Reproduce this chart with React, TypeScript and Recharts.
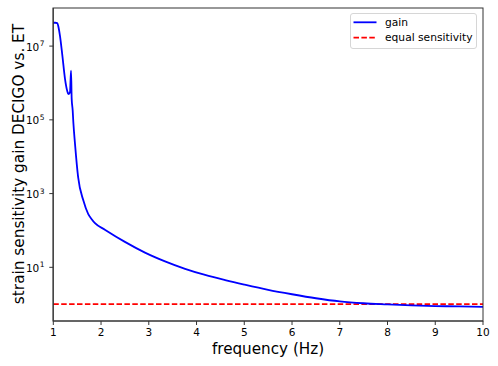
import { Line, LineChart, ReferenceLine, XAxis, YAxis } from "recharts"

const freqs = [
  1.0, 1.04, 1.084, 1.11, 1.14, 1.19, 1.245, 1.29, 1.314, 1.35, 1.371, 1.385, 1.406, 1.42, 1.455,
  1.52, 1.63, 1.73, 1.8, 1.873, 2.08, 2.5, 2.92, 3.34, 3.76, 4.18, 4.6, 5.0, 5.5, 6.0, 6.5, 7.0,
  7.5, 8.0, 8.5, 9.0, 9.5, 10.0,
]
const gain = [
  4.3e7, 4.3e7, 4.2e7, 3.2e7, 1.9e7, 5.5e6, 1.3e6, 6.2e5, 5.0e5, 5.6e5, 2.15e6, 3.7e5, 1.8e5, 8.5e4,
  2.2e4, 2.8e3, 645, 282, 204, 157, 105, 49, 25.1, 14.5, 9.1, 6.2, 4.5, 3.4, 2.45, 1.86, 1.45, 1.19,
  1.06, 0.99, 0.93, 0.89, 0.87, 0.85,
]
const equalLevel = 1
const xTicks = [1, 2, 3, 4, 5, 6, 7, 8, 9, 10]
const yTicks = [10, 1e3, 1e5, 1e7]

const data = freqs.map((f, i) => ({ freq: f, gain: gain[i] }))

const font = "'DejaVu Sans', sans-serif"

function PowTick({ x, y, payload }: any) {
  const exp = Math.round(Math.log10(payload.value))
  return (
    <text x={x - 8} y={y + 4.5} textAnchor="end" fontSize={10.5} fontFamily={font} fill="#000">
      10
      <tspan x={x - 7.5} dy={-4.5} fontSize={7.5} textAnchor="start">
        {exp}
      </tspan>
    </text>
  )
}

export default function App() {
  return (
    <div style={{ position: "fixed", left: 0, top: 0, width: 498, height: 366, background: "#fff" }}>
      <LineChart width={498} height={366} data={data} margin={{ top: 8, right: 15, bottom: 0, left: 0 }}>
        <XAxis
          dataKey="freq"
          type="number"
          domain={[1, 10]}
          ticks={xTicks}
          height={45}
          stroke="#333"
          tickSize={4}
          tickMargin={4}
          tick={{ fontSize: 10.5, fontFamily: font, fill: "#000" }}
        />
        <YAxis
          scale="log"
          domain={[0.35, 1.08e8]}
          allowDataOverflow
          ticks={yTicks}
          width={53.3}
          stroke="#333"
          tickSize={4}
          tick={<PowTick />}
        />
        <ReferenceLine y={equalLevel} stroke="#ff0000" strokeWidth={1.8} strokeDasharray="5.5 2.4" />
        <Line
          type="monotone"
          dataKey="gain"
          stroke="#0000ff"
          strokeWidth={1.8}
          dot={false}
          isAnimationActive={false}
        />
      </LineChart>
      <div
        style={{
          position: "absolute",
          left: 53.3,
          top: 8,
          width: 430.7,
          height: 314,
          border: "1px solid #333",
          boxSizing: "border-box",
          pointerEvents: "none",
          transform: "translate(-0.5px,-0.5px)",
        }}
      />
      <svg width={498} height={366} style={{ position: "absolute", left: 0, top: 0, pointerEvents: "none" }}>
        <text x={268} y={354} textAnchor="middle" fontSize={15.2} fontFamily={font} fill="#000">
          frequency (Hz)
        </text>
        <text
          x={24}
          y={164}
          transform="rotate(-90 24 164)"
          textAnchor="middle"
          fontSize={15.3}
          fontFamily={font}
          fill="#000"
        >
          strain sensitivity gain DECIGO vs. ET
        </text>
      </svg>
      <div
        style={{
          position: "absolute",
          left: 350,
          top: 13,
          width: 127,
          height: 35.5,
          border: "1px solid #d6d6d6",
          borderRadius: 3,
          boxSizing: "border-box",
          background: "rgba(255,255,255,0.8)",
        }}
      >
        <svg width={127} height={36} style={{ position: "absolute", left: -1, top: -1 }}>
          <line x1={3.5} x2={26.5} y1={9.3} y2={9.3} stroke="#0000ff" strokeWidth={1.8} />
          <line x1={3.5} x2={26.5} y1={24.7} y2={24.7} stroke="#ff0000" strokeWidth={1.8} strokeDasharray="5.5 2.4" />
          <text x={35} y={12.8} fontSize={10.7} fontFamily={font} fill="#000">
            gain
          </text>
          <text x={35} y={28} fontSize={10.7} fontFamily={font} fill="#000">
            equal sensitivity
          </text>
        </svg>
      </div>
    </div>
  )
}
